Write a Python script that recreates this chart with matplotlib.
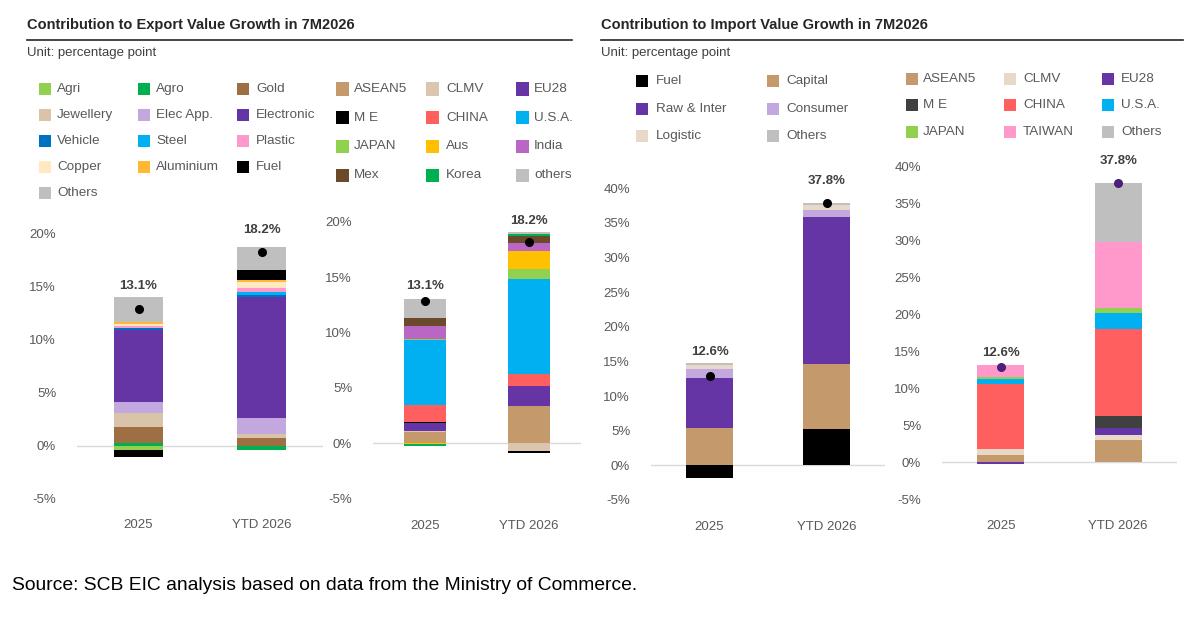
import numpy as np
import matplotlib
matplotlib.use("Agg")
from matplotlib import pyplot as plt
from matplotlib.patches import Rectangle
from matplotlib.lines import Line2D

plt.rcParams['font.family'] = ['Liberation Sans', 'DejaVu Sans']

W, H = 1203, 618
cats = ["2025", "YTD 2026"]

# ---- export by product (pp) ----
exp_prod_names = ["Agri", "Agro", "Gold", "Jewellery", "Elec App.", "Electronic", "Vehicle",
                  "Steel", "Plastic", "Copper", "Aluminium", "Fuel", "Others"]
exp_prod_vals = [
    [-0.38, 0.00],
    [0.28, -0.44],
    [1.45, 0.75],
    [1.38, 0.38],
    [1.04, 1.45],
    [6.79, 11.41],
    [0.10, 0.25],
    [0.05, 0.28],
    [0.15, 0.38],
    [0.20, 0.57],
    [0.20, 0.16],
    [-0.72, 0.91],
    [2.33, 2.14],
]
exp_prod_colors = ["#92D050", "#00B050", "#9E6F43", "#D9C3A9", "#C3A8E0", "#6535A5", "#0070C0",
                   "#00B0F0", "#FF99CC", "#FFE8C2", "#FFB833", "#000000", "#BFBFBF"]

# ---- export by market (pp) ----
exp_mkt_names = ["ASEAN5", "CLMV", "EU28", "M E", "CHINA", "U.S.A.", "JAPAN", "Aus", "India",
                 "Mex", "Korea", "others"]
exp_mkt_vals = [
    [1.00, 3.37],
    [0.10, -0.66],
    [0.72, 1.81],
    [0.15, -0.24],
    [1.45, 1.11],
    [5.93, 8.52],
    [0.06, 0.93],
    [-0.10, 1.63],
    [1.23, 0.72],
    [0.66, 0.66],
    [-0.10, 0.18],
    [1.78, 0.15],
]
exp_mkt_colors = ["#C49A6C", "#DCC5AE", "#6535A5", "#000000", "#FF5F5F", "#00B0F0", "#92D050",
                  "#FFC000", "#B966C4", "#6B4A2B", "#00B050", "#BFBFBF"]

# ---- import by product (pp) ----
imp_prod_names = ["Fuel", "Capital", "Raw & Inter", "Consumer", "Logistic", "Others"]
imp_prod_vals = [
    [-1.87, 5.19],
    [5.34, 9.47],
    [7.21, 21.20],
    [1.39, 0.96],
    [0.48, 0.72],
    [0.34, 0.29],
]
imp_prod_colors = ["#000000", "#C49A6C", "#6535A5", "#C3A8E0", "#E8D8C8", "#BFBFBF"]

# ---- import by market (pp) ----
imp_mkt_names = ["ASEAN5", "CLMV", "EU28", "M E", "CHINA", "U.S.A.", "JAPAN", "TAIWAN", "Others"]
imp_mkt_vals = [
    [0.95, 2.97],
    [0.77, 0.63],
    [-0.20, 0.99],
    [-0.10, 1.67],
    [8.78, 11.80],
    [0.68, 2.12],
    [0.27, 0.63],
    [1.62, 9.00],
    [0.10, 7.93],
]
imp_mkt_colors = ["#C49A6C", "#E8D8C8", "#6535A5", "#404040", "#FF5F5F", "#00B0F0", "#92D050",
                  "#FF99CC", "#BFBFBF"]

exp_total_labels = ["13.1%", "18.2%"]
imp_total_labels = ["12.6%", "37.8%"]

fig = plt.figure(figsize=(W / 100, H / 100), dpi=100)


def px_axes(x0, x1, ytop, ybot):
    return fig.add_axes([x0 / W, 1 - ybot / H, (x1 - x0) / W, (ybot - ytop) / H])


def stacked(ax, vals, colors, ylim, yticks, dot_color, labels, label_off):
    vals = np.array(vals, dtype=float)
    x = np.arange(len(cats))
    pos = np.zeros(len(cats))
    neg = np.zeros(len(cats))
    for v, c in zip(vals, colors):
        bottom = np.where(v >= 0, pos, neg)
        ax.bar(x, v, 0.4, bottom=bottom, color=c, linewidth=0, zorder=2)
        pos = pos + np.where(v >= 0, v, 0)
        neg = neg + np.where(v < 0, v, 0)
    total = vals.sum(axis=0)
    ax.plot(x, total, "o", color=dot_color, markersize=5.5, zorder=4)
    for xi, t, lab, off in zip(x, total, labels, label_off):
        ax.annotate(lab, (xi, t), xytext=(0, off * 0.72), textcoords="offset points",
                    ha="center", va="center", fontsize=9.5, fontweight="bold", color="#404040")
    ax.axhline(0, color="#D9D9D9", linewidth=1, zorder=1)
    ax.set_xlim(-0.5, 1.5)
    ax.set_ylim(*ylim)
    ax.set_yticks(yticks)
    ax.set_yticklabels([f"{t:d}%" for t in yticks])
    ax.set_xticks(x)
    ax.set_xticklabels(cats)
    ax.tick_params(axis="y", length=0, pad=15, labelsize=9.5, labelcolor="#595959")
    ax.tick_params(axis="x", length=0, pad=15, labelsize=9.5, labelcolor="#595959")
    for s in ax.spines.values():
        s.set_visible(False)
    ax.patch.set_alpha(0)


ax1 = px_axes(77, 323, 233.5, 498.5)
stacked(ax1, exp_prod_vals, exp_prod_colors, (-5, 20), list(range(-5, 21, 5)), "#000000",
        exp_total_labels, [23, 22])
ax2 = px_axes(373, 581, 221.9, 498.7)
stacked(ax2, exp_mkt_vals, exp_mkt_colors, (-5, 20), list(range(-5, 21, 5)), "#000000",
        exp_total_labels, [15, 21])
ax3 = px_axes(651, 885, 188.1, 500)
stacked(ax3, imp_prod_vals, imp_prod_colors, (-5, 40), list(range(-5, 41, 5)), "#000000",
        imp_total_labels, [24, 22])
ax4 = px_axes(942, 1177, 166.4, 499)
stacked(ax4, imp_mkt_vals, imp_mkt_colors, (-5, 40), list(range(-5, 41, 5)), "#4B1F7A",
        imp_total_labels, [14, 22])


def legend(names, colors, x_marks, x_texts, y0, dy, ncol=3, size=12):
    for i, (n, c) in enumerate(zip(names, colors)):
        r, k = divmod(i, ncol)
        y = y0 + r * dy
        fig.patches.append(Rectangle((x_marks[k] / W, 1 - (y + size / 2) / H), size / W, size / H,
                                     transform=fig.transFigure, color=c, linewidth=0))
        fig.text(x_texts[k] / W, 1 - y / H, n, ha="left", va="center", fontsize=9.7,
                 color="#595959")


legend(exp_prod_names, exp_prod_colors, [39, 138, 237], [57, 156, 256], 89, 26)
legend(exp_mkt_names, exp_mkt_colors, [336, 426, 516], [354, 446, 534], 89, 28.7, size=13)
legend(imp_prod_names, imp_prod_colors, [636, 767], [656, 786], 81, 27.5, ncol=2)
legend(imp_mkt_names, imp_mkt_colors, [906, 1004, 1102], [923, 1023, 1121], 79, 26.3)

# titles
for x0, x1, title in [(27, 572, "Contribution to Export Value Growth in 7M2026"),
                      (601, 1183, "Contribution to Import Value Growth in 7M2026")]:
    fig.text(x0 / W, 1 - 25 / H, title, ha="left", va="center", fontsize=10.5,
             color="#262626", fontweight="semibold")
    fig.lines.append(Line2D([x0 / W, x1 / W], [1 - 40 / H, 1 - 40 / H], transform=fig.transFigure,
                            color="#262626", linewidth=1.2))
    fig.text(x0 / W, 1 - 53 / H, "Unit: percentage point", ha="left", va="center",
             fontsize=9.5, color="#404040")

fig.text(12 / W, 1 - 585 / H, "Source: SCB EIC analysis based on data from the Ministry of Commerce.",
         ha="left", va="center", fontsize=13.9, color="#000000")

fig.savefig("out.png", dpi=100)
